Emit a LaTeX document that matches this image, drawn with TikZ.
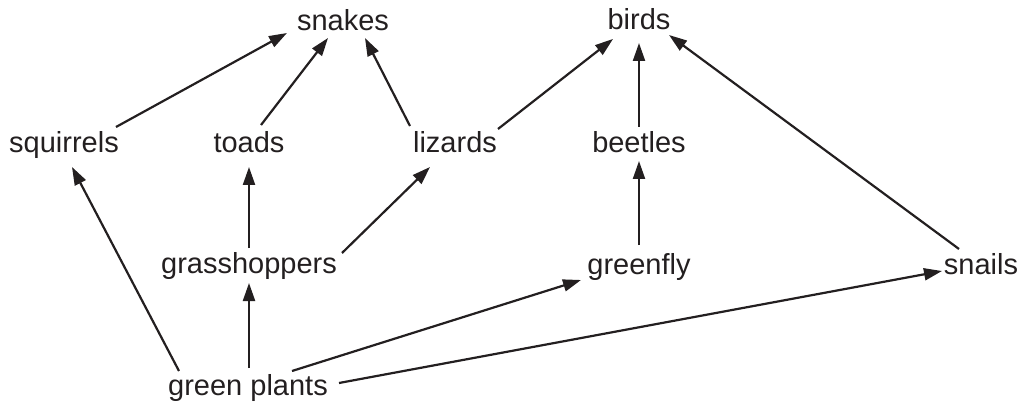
\documentclass[tikz,border=0pt]{standalone}
\usepackage{fontspec}
\setmainfont{Liberation Sans}
\usetikzlibrary{arrows.meta}
\definecolor{ink}{RGB}{35,31,32}
\begin{document}
\begin{tikzpicture}[x=1pt,y=-1pt,
  lbl/.style={anchor=base,inner sep=0pt,text=ink,font=\fontsize{29}{34}\selectfont},
  link/.style={draw=ink,line width=2.2pt,-{Triangle[length=18pt,width=12pt]}}]
\useasboundingbox (0,0) rectangle (1033,406);
\node[lbl] (sn) at (343,30.5) {snakes};
\node[lbl] (bi) at (639,29.5) {birds};
\node[lbl] (sq) at (64,153) {squirrels};
\node[lbl] (to) at (249,153) {toads};
\node[lbl] (li) at (455,153) {lizards};
\node[lbl] (be) at (639,153) {beetles};
\node[lbl] (gh) at (249,273) {grasshoppers};
\node[lbl] (gf) at (639,274) {greenfly};
\node[lbl] (sa) at (981,274) {snails};
\node[lbl] (gp) at (248,395) {green plants};
\draw[link] ([shift={(52,-26)}]sq.base) -- ([shift={(-56,2.5)}]sn.base);
\draw[link] ([shift={(12,-28)}]to.base) -- ([shift={(-15,7.5)}]sn.base);
\draw[link] ([shift={(-45,-27)}]li.base) -- ([shift={(22,7.5)}]sn.base);
\draw[link] ([shift={(43,-24)}]li.base) -- ([shift={(-26,9.5)}]bi.base);
\draw[link] ([shift={(0,-26)}]be.base) -- ([shift={(0,13.5)}]bi.base);
\draw[link] ([shift={(-22,-25)}]sa.base) -- ([shift={(30,5.5)}]bi.base);
\draw[link] ([shift={(0,-29)}]gf.base) -- ([shift={(0,8)}]be.base);
\draw[link] ([shift={(0,-25)}]gh.base) -- ([shift={(0,14)}]to.base);
\draw[link] ([shift={(93,-20)}]gh.base) -- ([shift={(-25,14)}]li.base);
\draw[link] ([shift={(-69,-24)}]gp.base) -- ([shift={(8,14)}]sq.base);
\draw[link] ([shift={(1,-27)}]gp.base) -- ([shift={(0,10)}]gh.base);
\draw[link] ([shift={(44,-24)}]gp.base) -- ([shift={(-58,6)}]gf.base);
\draw[link] ([shift={(91,-12)}]gp.base) -- ([shift={(-39,-3)}]sa.base);
\end{tikzpicture}
\end{document}
